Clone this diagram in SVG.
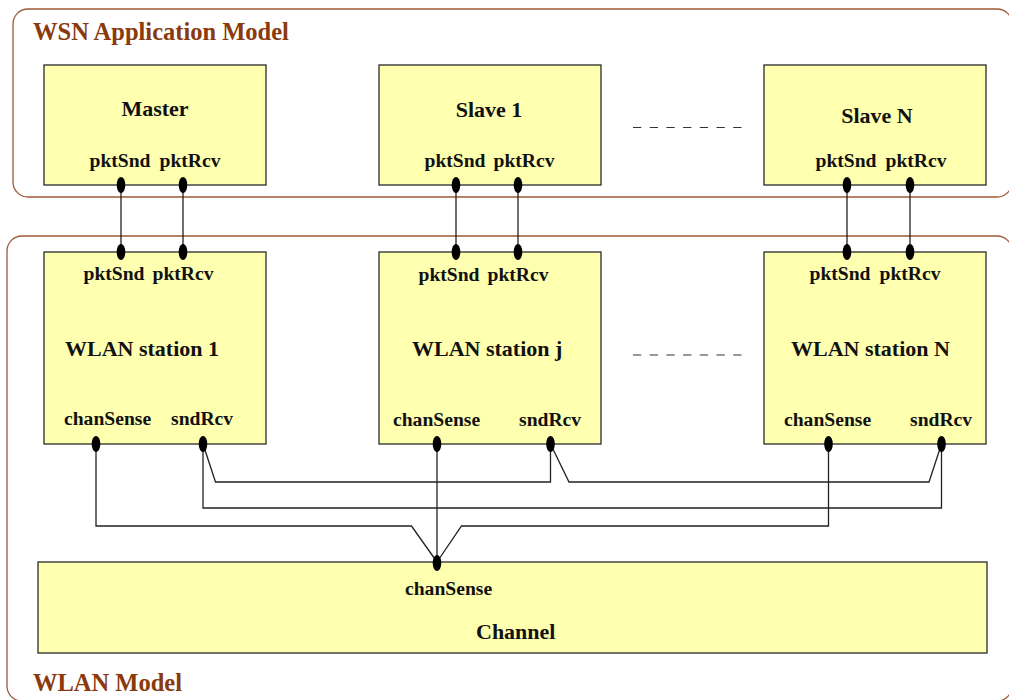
<svg xmlns="http://www.w3.org/2000/svg" width="1009" height="700" viewBox="0 0 1009 700">
<style>
  .frame { fill: none; stroke: #9c5a36; stroke-width: 1.3; }
  .ftitle { font-family: "Liberation Serif", "Times New Roman", serif; font-weight: bold; font-size: 24.5px; fill: #8a3a0c; }
  .box { fill: #ffffb0; stroke: #2a2a2a; stroke-width: 1.3; }
  .title { font-family: "Liberation Serif", "Times New Roman", serif; font-weight: bold; font-size: 22px; fill: #111; }
  .port { font-family: "Liberation Serif", "Times New Roman", serif; font-weight: bold; font-size: 19.6px; fill: #111; }
  .mid { text-anchor: middle; }
  .dot { fill: #000; }
  .wire { fill: none; stroke: #222; stroke-width: 1.3; }
  .dash { fill: none; stroke: #333; stroke-width: 1.2; stroke-dasharray: 8.3 8.4; }
</style>

<g id="frames">
  <rect class="frame" x="13" y="9" width="999" height="188" rx="15" ry="15"/>
  <text class="ftitle" x="33" y="40">WSN Application Model</text>
  <rect class="frame" x="7" y="236" width="1005" height="465" rx="15" ry="15"/>
  <text class="ftitle" x="33" y="691">WLAN Model</text>
</g>

<g id="connectors">
  <line class="wire" x1="121" y1="185" x2="121" y2="252"/>
  <line class="wire" x1="183" y1="185" x2="183" y2="252"/>
  <line class="wire" x1="456" y1="185" x2="456" y2="252"/>
  <line class="wire" x1="518" y1="185" x2="518" y2="252"/>
  <line class="wire" x1="847" y1="185" x2="847" y2="252"/>
  <line class="wire" x1="910" y1="185" x2="910" y2="252"/>
  <polyline class="wire" points="203,444 215.5,482 550.5,482 550.5,444"/>
  <polyline class="wire" points="550.5,444 569,482 929,482 941.5,444"/>
  <polyline class="wire" points="203,444 203,508 941.5,508 941.5,444"/>
  <polyline class="wire" points="96,444 96,526 411.5,526 437,562"/>
  <polyline class="wire" points="828.5,444 828.5,526 461.5,526 437,562"/>
  <line class="wire" x1="437" y1="444" x2="437" y2="562"/>
  <line class="dash" x1="633" y1="127.5" x2="742" y2="127.5"/>
  <line class="dash" x1="633" y1="355" x2="742" y2="355"/>
</g>

<g id="master">
  <rect class="box" x="44" y="65" width="222" height="120"/>
  <text class="title mid" x="155" y="116">Master</text>
  <text class="port mid" x="120" y="167">pktSnd</text>
  <text class="port mid" x="190" y="167">pktRcv</text>
  <ellipse class="dot" cx="121" cy="185" rx="4.3" ry="8"/>
  <ellipse class="dot" cx="183" cy="185" rx="4.3" ry="8"/>
</g>

<g id="slave1">
  <rect class="box" x="379" y="65" width="222" height="120"/>
  <text class="title mid" x="489" y="117">Slave 1</text>
  <text class="port mid" x="455" y="167">pktSnd</text>
  <text class="port mid" x="524" y="167">pktRcv</text>
  <ellipse class="dot" cx="456" cy="185" rx="4.3" ry="8"/>
  <ellipse class="dot" cx="518" cy="185" rx="4.3" ry="8"/>
</g>

<g id="slaveN">
  <rect class="box" x="764" y="65" width="222" height="120"/>
  <text class="title mid" x="877" y="123">Slave N</text>
  <text class="port mid" x="846" y="167">pktSnd</text>
  <text class="port mid" x="916" y="167">pktRcv</text>
  <ellipse class="dot" cx="847" cy="185" rx="4.3" ry="8"/>
  <ellipse class="dot" cx="910" cy="185" rx="4.3" ry="8"/>
</g>

<g id="station1">
  <rect class="box" x="44" y="252" width="222" height="192"/>
  <text class="port mid" x="114" y="280">pktSnd</text>
  <text class="port mid" x="183" y="280">pktRcv</text>
  <text class="title" x="65" y="356">WLAN station 1</text>
  <text class="port" x="64" y="425">chanSense</text>
  <text class="port" x="171" y="425">sndRcv</text>
  <ellipse class="dot" cx="121" cy="252" rx="4.3" ry="8"/>
  <ellipse class="dot" cx="183" cy="252" rx="4.3" ry="8"/>
  <ellipse class="dot" cx="96" cy="444" rx="4.3" ry="8"/>
  <ellipse class="dot" cx="203" cy="444" rx="4.3" ry="8"/>
</g>

<g id="stationj">
  <rect class="box" x="379" y="252" width="222" height="192"/>
  <text class="port mid" x="449" y="281">pktSnd</text>
  <text class="port mid" x="518" y="281">pktRcv</text>
  <text class="title" x="412" y="356">WLAN station j</text>
  <text class="port" x="393" y="426">chanSense</text>
  <text class="port" x="519" y="426">sndRcv</text>
  <ellipse class="dot" cx="456" cy="252" rx="4.3" ry="8"/>
  <ellipse class="dot" cx="518" cy="252" rx="4.3" ry="8"/>
  <ellipse class="dot" cx="437" cy="444" rx="4.3" ry="8"/>
  <ellipse class="dot" cx="550.5" cy="444" rx="4.3" ry="8"/>
</g>

<g id="stationN">
  <rect class="box" x="764" y="252" width="222" height="192"/>
  <text class="port mid" x="840" y="280">pktSnd</text>
  <text class="port mid" x="910" y="280">pktRcv</text>
  <text class="title" x="791" y="356">WLAN station N</text>
  <text class="port" x="784" y="426">chanSense</text>
  <text class="port" x="910" y="426">sndRcv</text>
  <ellipse class="dot" cx="847" cy="252" rx="4.3" ry="8"/>
  <ellipse class="dot" cx="910" cy="252" rx="4.3" ry="8"/>
  <ellipse class="dot" cx="828.5" cy="444" rx="4.3" ry="8"/>
  <ellipse class="dot" cx="941.5" cy="444" rx="4.3" ry="8"/>
</g>

<g id="channel">
  <rect class="box" x="38" y="562" width="949" height="91"/>
  <text class="port" x="405" y="595">chanSense</text>
  <text class="title" x="476" y="639">Channel</text>
  <ellipse class="dot" cx="437" cy="563" rx="4.3" ry="8"/>
</g>
</svg>
